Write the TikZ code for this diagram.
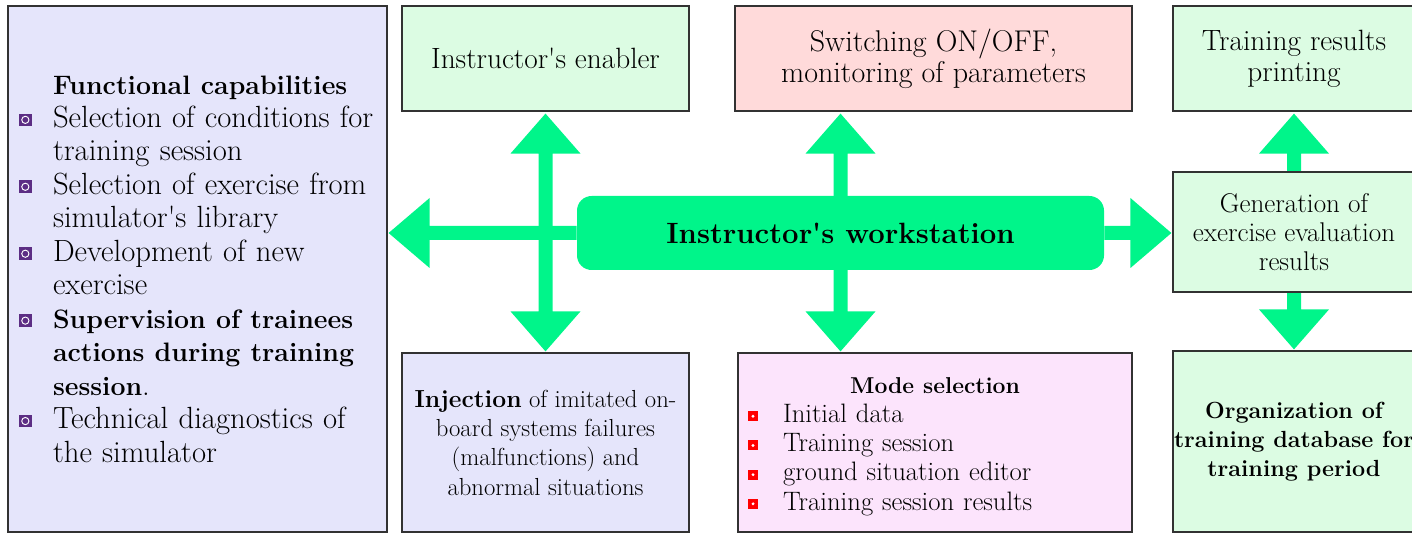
\documentclass[tikz,border=0pt]{standalone}
\usepackage{fontspec}
\usetikzlibrary{calc,backgrounds}
\definecolor{lav}{RGB}{229,229,251}
\definecolor{lgreen}{RGB}{220,252,227}
\definecolor{lpink}{RGB}{255,218,218}
\definecolor{lmag}{RGB}{252,228,252}
\definecolor{sgreen}{RGB}{0,245,138}
\definecolor{purp}{RGB}{92,45,132}
\definecolor{edgec}{RGB}{50,50,50}
\newcommand\pbul{\leavevmode\llap{\tikz[x=1pt,y=1pt,baseline=-1pt]{\fill[purp] (0,0) rectangle (9.5,9.5); \draw[white,line width=0.7pt] (4.75,4.75) circle (2.7);}\hspace{16pt}}}
\newcommand\rbul{\leavevmode\llap{\tikz[x=1pt,y=1pt,baseline=-1pt]{\fill[red] (0,0) rectangle (7.5,7.5); \fill[white] (3.75,3.75) circle (1.2);}\hspace{18.75pt}}}
\newcommand\lbf[1]{{\fontsize{20}{25.1}\selectfont\bfseries #1}}
\newcommand\uparr[2]{\fill[arr] ($(#2|-#1)+(-7,0)$) -- ($(#2)+(-7,40)$) -- ($(#2)+(-35,40)$) -- (#2) -- ($(#2)+(35,40)$) -- ($(#2)+(7,40)$) -- ($(#2|-#1)+(7,0)$) -- cycle;}
\newcommand\downarr[2]{\fill[arr] ($(#2|-#1)+(-7,0)$) -- ($(#2)+(-7,-40)$) -- ($(#2)+(-35,-40)$) -- (#2) -- ($(#2)+(35,-40)$) -- ($(#2)+(7,-40)$) -- ($(#2|-#1)+(7,0)$) -- cycle;}
\newcommand\leftarr[2]{\fill[arr] ($(#2-|#1)+(0,-7)$) -- ($(#2)+(41,-7)$) -- ($(#2)+(41,-35)$) -- (#2) -- ($(#2)+(41,35)$) -- ($(#2)+(41,7)$) -- ($(#2-|#1)+(0,7)$) -- cycle;}
\newcommand\rightarr[2]{\fill[arr] ($(#2-|#1)+(0,-7)$) -- ($(#2)+(-41,-7)$) -- ($(#2)+(-41,-35)$) -- (#2) -- ($(#2)+(-41,35)$) -- ($(#2)+(-41,7)$) -- ($(#2-|#1)+(0,7)$) -- cycle;}
\begin{document}
\begin{tikzpicture}[x=0.75pt,y=-0.75pt,
  box/.style={draw=edgec, line width=0.9pt, inner sep=0pt, align=center},
  box at/.style n args={4}{minimum width={(#3-#1)*0.75pt}, minimum height={(#4-#2)*0.75pt}, at={({(#1+#3)/2},{(#2+#4)/2})}},
  arr/.style={fill=sgreen}]
\useasboundingbox (0,0) rectangle (1412,534);

\node[box, fill=lav, box at={8}{6}{387}{532}, text width=284.25pt, align=left,
  font=\fontsize{23}{25.1}\selectfont] (cap) {\parindent=0pt\leftskip=33.75pt%
\lbf{Functional capabilities}\par
\pbul Selection of conditions for\\ training session\par
\pbul Selection of exercise from\\ simulator\textquotesingle s library\par
\pbul Development of new\\ exercise\par
\pbul \lbf{Supervision of trainees\\ actions during training\\ session}.\par
\pbul Technical diagnostics of\\ the simulator\par};

\node[box, fill=lgreen, box at={402}{6}{689}{111}, font=\fontsize{22}{23.25}\selectfont] (enab) {Instructor\textquotesingle s enabler};
\node[box, fill=lpink, box at={735}{6}{1132}{111}, font=\fontsize{22.5}{23.25}\selectfont] (sw) {Switching ON/OFF,\\ monitoring of parameters};
\node[box, fill=lgreen, box at={1173}{6}{1415}{111}, font=\fontsize{22}{23.25}\selectfont] (print) {Training results\\ printing};
\node[box, fill=lgreen, box at={1173}{172}{1415}{292}, font=\fontsize{20.3}{22}\selectfont] (gen) {Generation of\\ exercise evaluation\\ results};
\node[box, fill=lgreen, box at={1173}{351}{1415}{532}, font=\fontsize{17.5}{21.75}\selectfont\bfseries] (org) {Organization of\\ training database for\\ training period};
\node[box, fill=lav, box at={402}{353}{689}{532}, font=\fontsize{18.5}{22}\selectfont] (inj) {\textbf{Injection} of imitated on-\\ board systems failures\\ (malfunctions) and\\ abnormal situations};
\node[box, fill=lmag, box at={738}{353}{1132}{532}, text width=295.5pt, align=left,
  font=\fontsize{20}{21.9}\selectfont] (mode) {\parindent=0pt%
{\centering\fontsize{17.2}{21.9}\selectfont\bfseries\rule{0pt}{18pt}Mode selection\par}
\leftskip=33.75pt
\rbul Initial data\par
\rbul Training session\par
\rbul ground situation editor\par
\rbul Training session results\par};

\node[fill=sgreen, rounded corners=11pt, inner sep=0pt, box at={577}{196}{1104}{270},
  font=\fontsize{22}{26}\selectfont\bfseries] (ws) {Instructor\textquotesingle s workstation};

\begin{scope}[on background layer]
\coordinate (c1) at (enab.south |- ws.west);
\coordinate (t1) at ($(enab.south)+(0,2)$);
\coordinate (b1) at ($(inj.north)+(0,-1)$);
\uparr{c1}{t1}
\downarr{c1}{b1}
\coordinate (lt) at ($(cap.east |- ws.west)+(1,0)$);
\leftarr{ws.west}{lt}
\coordinate (t2) at ($(ws.center |- sw.south)+(0,2)$);
\coordinate (b2) at ($(ws.center |- mode.north)+(0,-1)$);
\uparr{ws.center}{t2}
\downarr{ws.center}{b2}
\coordinate (rt) at ($(gen.west |- ws.east)+(-1,0)$);
\rightarr{ws.east}{rt}
\coordinate (t3) at ($(print.south)+(0,2)$);
\coordinate (b3) at ($(org.north)+(0,-1)$);
\uparr{gen.north}{t3}
\downarr{gen.south}{b3}
\end{scope}
\end{tikzpicture}
\end{document}
